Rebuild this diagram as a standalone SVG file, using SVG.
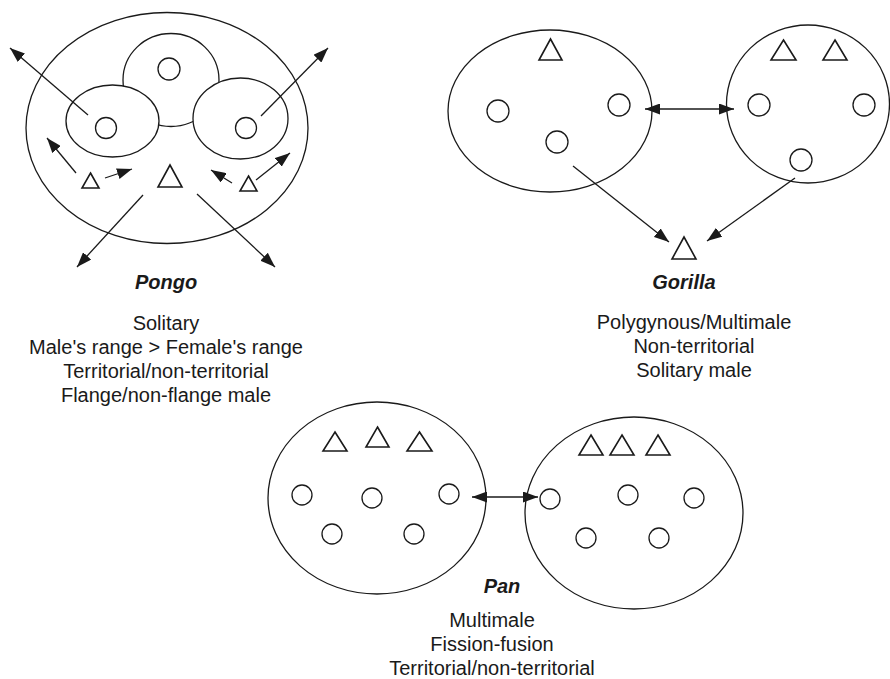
<svg xmlns="http://www.w3.org/2000/svg" width="890" height="679" viewBox="0 0 890 679">
<style>
.sh{fill:#fff;stroke:#1a1a1a;stroke-width:1.3}
.c{fill:none;stroke:#1a1a1a;stroke-width:1.3}
.t{fill:none;stroke:#1a1a1a;stroke-width:1.6;stroke-linejoin:miter}
.ln{fill:none;stroke:#1a1a1a;stroke-width:1.3}
.lab{font-family:"Liberation Sans",Arial,sans-serif;font-size:20px;fill:#1a1a1a;text-anchor:middle}
.ttl{font-weight:bold;font-style:italic}
</style>
<defs>
<marker id="ah" markerUnits="userSpaceOnUse" markerWidth="15" markerHeight="11" refX="15" refY="5.5" orient="auto-start-reverse">
<path d="M0,0 L15,5.5 L0,11 z" fill="#1a1a1a"/>
</marker>
</defs>

<g id="pongo">
<ellipse class="sh" cx="167" cy="128" rx="141" ry="115.5"/>
<ellipse class="sh" cx="171" cy="80" rx="48" ry="46.5"/>
<ellipse class="sh" cx="112.5" cy="121" rx="46.5" ry="36"/>
<ellipse class="sh" cx="240.5" cy="118.5" rx="47.5" ry="40.5"/>
<circle class="c" cx="106" cy="128" r="10.5"/>
<circle class="c" cx="169" cy="69" r="11"/>
<circle class="c" cx="246" cy="128" r="10.5"/>
<path class="t" d="M90.5,173 L99,188 L82,188 z"/>
<path class="t" d="M170,165 L182,187 L158,187 z"/>
<path class="t" d="M248.5,176 L257,191 L240,191 z"/>
</g>

<g id="gorilla-group-1">
<ellipse class="sh" cx="550" cy="111" rx="102" ry="81"/>
<path class="t" d="M550.5,39 L562,60 L539,60 z"/>
<circle class="c" cx="498" cy="111" r="11"/>
<circle class="c" cx="619" cy="105" r="11"/>
<circle class="c" cx="557" cy="142" r="11"/>
</g>

<g id="gorilla-group-2">
<ellipse class="sh" cx="808" cy="104" rx="81.5" ry="79"/>
<path class="t" d="M783.5,40 L796,60 L771,60 z"/>
<path class="t" d="M835,40 L847,60 L823,60 z"/>
<circle class="c" cx="759" cy="105" r="11"/>
<circle class="c" cx="864" cy="105" r="11"/>
<circle class="c" cx="801" cy="160" r="11"/>
</g>

<g id="gorilla-male">
<path class="t" d="M684,237 L696,259 L672,259 z"/>
</g>

<g id="pan-group-1">
<ellipse class="sh" cx="377" cy="498" rx="109" ry="96"/>
<path class="t" d="M335,432 L347,451 L323,451 z"/>
<path class="t" d="M377.5,427 L389,447 L366,447 z"/>
<path class="t" d="M419.5,432 L432,451 L407,451 z"/>
<circle class="c" cx="302" cy="495" r="10"/>
<circle class="c" cx="372" cy="498" r="10"/>
<circle class="c" cx="449" cy="494" r="10"/>
<circle class="c" cx="332" cy="534" r="10"/>
<circle class="c" cx="414" cy="534" r="10"/>
</g>

<g id="pan-group-2">
<ellipse class="sh" cx="634" cy="513" rx="109" ry="96"/>
<path class="t" d="M591,435 L603,455 L579,455 z"/>
<path class="t" d="M622,435 L634,455 L610,455 z"/>
<path class="t" d="M658,435 L670,455 L646,455 z"/>
<circle class="c" cx="550" cy="499" r="10"/>
<circle class="c" cx="628" cy="495" r="10"/>
<circle class="c" cx="694" cy="498" r="10"/>
<circle class="c" cx="586" cy="538" r="10"/>
<circle class="c" cx="659" cy="538" r="10"/>
</g>

<g id="connectors">
<line class="ln" x1="88" y1="115" x2="10" y2="48" marker-end="url(#ah)"/>
<line class="ln" x1="261" y1="116" x2="328" y2="48" marker-end="url(#ah)"/>
<line class="ln" x1="76" y1="173" x2="47" y2="138" marker-end="url(#ah)"/>
<line class="ln" x1="105" y1="178" x2="132" y2="169" marker-end="url(#ah)"/>
<line class="ln" x1="232" y1="183" x2="211" y2="170" marker-end="url(#ah)"/>
<line class="ln" x1="256" y1="180" x2="290" y2="153" marker-end="url(#ah)"/>
<line class="ln" x1="143" y1="195" x2="77" y2="267" marker-end="url(#ah)"/>
<line class="ln" x1="197" y1="194" x2="275" y2="267" marker-end="url(#ah)"/>
<line class="ln" x1="645" y1="109" x2="734" y2="109" marker-start="url(#ah)" marker-end="url(#ah)"/>
<line class="ln" x1="573" y1="166" x2="669" y2="242" marker-end="url(#ah)"/>
<line class="ln" x1="795" y1="178" x2="707" y2="241" marker-end="url(#ah)"/>
<line class="ln" x1="472" y1="497" x2="538" y2="497" marker-start="url(#ah)" marker-end="url(#ah)"/>
</g>

<g id="labels">
<text class="lab ttl" x="166" y="289">Pongo</text>
<text class="lab" x="166" y="330">Solitary</text>
<text class="lab" x="166" y="354">Male's range &gt; Female's range</text>
<text class="lab" x="166" y="378">Territorial/non-territorial</text>
<text class="lab" x="166" y="402">Flange/non-flange male</text>
<text class="lab ttl" x="684" y="289">Gorilla</text>
<text class="lab" x="694" y="329">Polygynous/Multimale</text>
<text class="lab" x="694" y="353">Non-territorial</text>
<text class="lab" x="694" y="377">Solitary male</text>
<text class="lab ttl" x="502" y="593">Pan</text>
<text class="lab" x="492" y="627">Multimale</text>
<text class="lab" x="492" y="651">Fission-fusion</text>
<text class="lab" x="492" y="675">Territorial/non-territorial</text>
</g>
</svg>
